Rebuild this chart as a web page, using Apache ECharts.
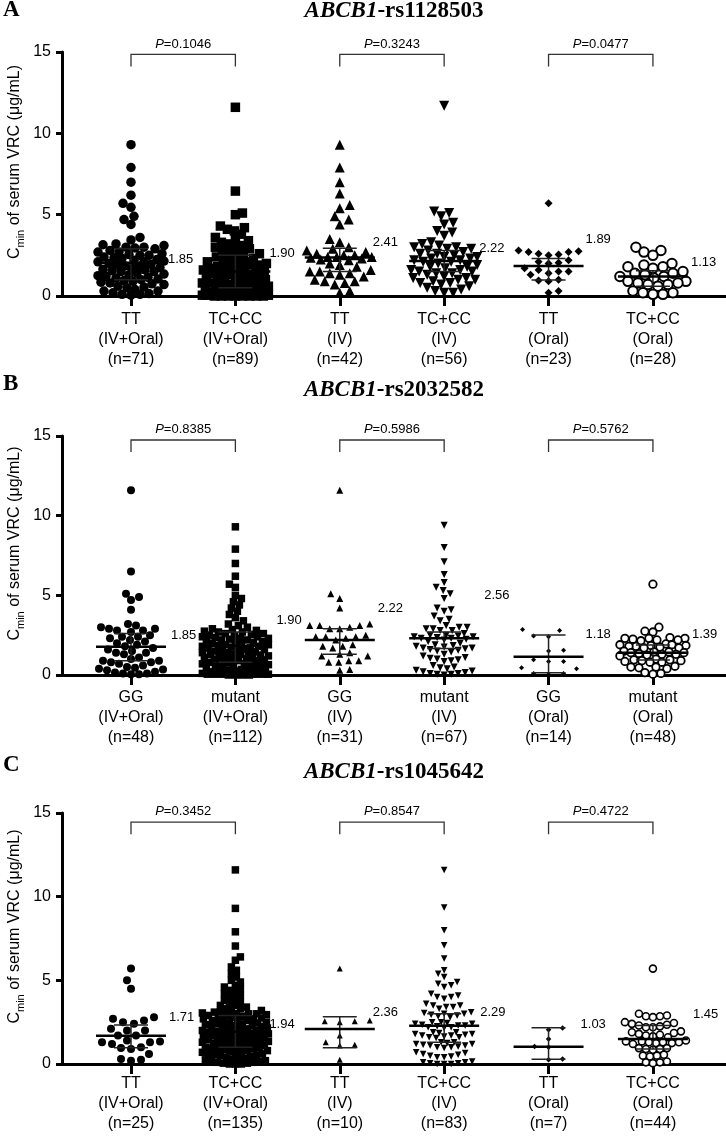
<!DOCTYPE html>
<html>
<head>
<meta charset="utf-8">
<script src="https://cdn.jsdelivr.net/npm/echarts@6/dist/echarts.min.js"></script>
<style>
html, body { margin: 0; padding: 0; background: #fff; }
#main { width: 726px; height: 1136px; }
</style>
</head>
<body>
<div id="main"></div>
<script>
// ---------------- data ----------------
var titleA = 'rs1128503', titleB = 'rs2032582', titleC = 'rs1045642';

var catsA = ['TT\n(IV+Oral)\n(n=71)', 'TC+CC\n(IV+Oral)\n(n=89)', 'TT\n(IV)\n(n=42)', 'TC+CC\n(IV)\n(n=56)', 'TT\n(Oral)\n(n=23)', 'TC+CC\n(Oral)\n(n=28)'];
var catsB = ['GG\n(IV+Oral)\n(n=48)', 'mutant\n(IV+Oral)\n(n=112)', 'GG\n(IV)\n(n=31)', 'mutant\n(IV)\n(n=67)', 'GG\n(Oral)\n(n=14)', 'mutant\n(Oral)\n(n=48)'];
var catsC = ['TT\n(IV+Oral)\n(n=25)', 'TC+CC\n(IV+Oral)\n(n=135)', 'TT\n(IV)\n(n=10)', 'TC+CC\n(IV)\n(n=83)', 'TT\n(Oral)\n(n=7)', 'TC+CC\n(Oral)\n(n=44)'];

var pA = ['0.1046', '0.3243', '0.0477'];
var pB = ['0.8385', '0.5986', '0.5762'];
var pC = ['0.3452', '0.8547', '0.4722'];

var medTextA = ['1.85', '1.90', '2.41', '2.22', '1.89', '1.13'];
var medTextB = ['1.85', '1.90', '2.22', '2.56', '1.18', '1.39'];
var medTextC = ['1.71', '1.94', '2.36', '2.29', '1.03', '1.45'];

// median / interquartile lines as drawn
var medA = [2.05, 1.5, 2.36, 2.15, 1.84, 1.2];
var q1A = [1.0, 0.5, 1.5, 1.5, 0.98, 0.6];
var q3A = [2.9, 2.5, 2.93, 2.8, 2.3, 1.55];
var medB = [1.78, 1.84, 2.2, 2.3, 1.15, 1.4];
var q1B = [0.9, 0.8, 1.3, 1.67, 0.14, 0.94];
var q3B = [2.6, 2.7, 2.9, 2.7, 2.51, 1.88];
var medC = [1.69, 1.93, 2.09, 2.29, 1.03, 1.5];
var q1C = [0.97, 1.0, 0.97, 1.3, 0.28, 0.9];
var q3C = [2.33, 2.9, 2.83, 3.0, 2.17, 2.3];

// panel A points
var a1 = [9.3, 7.9, 7.0, 6.2, 5.7, 5.45, 4.9, 4.7, 4.4, 3.6, 3.45,
  3.2, 3.15, 3.1, 3.0, 3.0, 2.95, 2.9, 2.8,
  2.7, 2.7, 2.6, 2.55, 2.5, 2.5, 2.4, 2.35, 2.3, 2.25,
  2.2, 2.15, 2.1, 2.1, 2.0, 1.95, 1.9, 1.85, 1.8, 1.75,
  1.7, 1.65, 1.6, 1.55, 1.5, 1.5, 1.4, 1.35, 1.3, 1.25,
  1.2, 1.15, 1.1, 1.05, 1.0, 0.95, 0.9, 0.85, 0.8, 0.75,
  0.7, 0.6, 0.55, 0.5, 0.4, 0.3, 0.3, 0.2, 0.15, 0.1, 0.1, 0.05];
var a2 = [11.6, 6.45, 5.1, 5.0, 4.3, 4.2, 4.1, 4.0,
  3.8, 3.6, 3.5, 3.4,
  3.3, 3.2, 3.1, 3.0, 3.0,
  2.9, 2.8, 2.7, 2.6, 2.6, 2.5,
  2.4, 2.3, 2.3, 2.2, 2.1, 2.1, 2.0, 2.0,
  1.9, 1.9, 1.8, 1.8, 1.7, 1.7, 1.6, 1.6, 1.5, 1.5,
  1.45, 1.4, 1.4, 1.3, 1.3, 1.2, 1.2, 1.1, 1.1, 1.0, 1.0,
  0.95, 0.9, 0.9, 0.8, 0.8, 0.7, 0.7, 0.6, 0.6, 0.5, 0.5,
  0.45, 0.4, 0.4, 0.35, 0.3, 0.3, 0.25, 0.2, 0.2, 0.15, 0.1, 0.1, 0.1,
  0.05, 0.05, 0.05, 0.05, 0.05, 0, 0, 0, 0, 0, 0, 0, 0];
var a3 = [9.3, 7.9, 7.0, 6.3, 5.6, 5.4, 4.9, 4.7, 4.4, 3.5, 3.3,
  3.0, 2.9, 2.8, 2.7,
  2.6, 2.5, 2.5, 2.4, 2.4, 2.4, 2.35, 2.3, 2.25, 2.2,
  2.0, 1.9, 1.8,
  1.6, 1.5, 1.5, 1.4, 1.4, 1.3, 1.2,
  1.0, 0.9, 0.9, 0.8, 0.7,
  0.3, 0.2];
var a4 = [11.7, 5.2, 5.1, 4.9, 4.5, 4.4, 4.0, 3.9, 3.7,
  3.3, 3.2, 3.1, 3.0, 3.0, 2.9, 2.9, 2.8,
  2.7, 2.6, 2.6, 2.5, 2.4, 2.4, 2.3, 2.3, 2.2, 2.2, 2.1, 2.1, 2.0,
  1.9, 1.8, 1.8, 1.7, 1.6, 1.6, 1.5, 1.5, 1.4, 1.4, 1.3,
  1.2, 1.1, 1.1, 1.0, 1.0, 0.9, 0.8, 0.8, 0.7,
  0.6, 0.5, 0.4, 0.3, 0.2, 0.2];
var a5 = [5.7, 2.8, 2.75, 2.7, 2.7, 2.6, 2.55, 2.5, 2.2, 2.1, 2.05, 2.0,
  1.7, 1.6, 1.5, 1.5, 1.4, 1.3, 1.0, 0.95, 0.9, 0.3, 0.2];
var a6 = [3.0, 2.8, 2.7, 2.5, 2.0, 1.9, 1.8, 1.8, 1.7, 1.5, 1.4, 1.4, 1.3, 1.2,
  1.2, 1.1, 0.9, 0.9, 0.8, 0.8, 0.7, 0.7, 0.6, 0.3, 0.2, 0.2, 0.1, 0.1];

// panel B points
var b1 = [11.6, 6.5, 5.1, 4.9, 4.7, 4.1,
  3.2, 3.1, 3.0, 2.9, 2.9, 2.8, 2.8, 2.7,
  2.5, 2.4, 2.4, 2.3, 2.2, 2.1, 2.0,
  1.9, 1.8, 1.7, 1.6, 1.5, 1.4, 1.4, 1.3,
  1.1, 1.0, 0.9, 0.9, 0.8, 0.8, 0.7, 0.6,
  0.5, 0.45, 0.4, 0.35, 0.3,
  0.2, 0.15, 0.1, 0.1, 0.05, 0.05];
var b2 = [9.3, 7.9, 7.0, 6.2, 5.7, 5.5, 5.0, 4.8, 4.6, 4.4, 4.2, 4.0, 3.8, 3.6, 3.4, 3.2, 3.1, 3.0,
  2.9, 2.85, 2.8, 2.75, 2.7, 2.7, 2.6, 2.6, 2.55, 2.5,
  2.45, 2.4, 2.4, 2.35, 2.3, 2.3, 2.25, 2.2, 2.2, 2.15, 2.1, 2.1, 2.05, 2.0,
  1.95, 1.9, 1.9, 1.85, 1.8, 1.8, 1.75, 1.7, 1.7, 1.65, 1.6, 1.6, 1.55, 1.5,
  1.45, 1.4, 1.4, 1.35, 1.3, 1.3, 1.3, 1.25, 1.2, 1.2, 1.15, 1.1, 1.1, 1.05, 1.0, 1.0,
  0.95, 0.9, 0.9, 0.85, 0.8, 0.8, 0.75, 0.7, 0.7, 0.65, 0.6, 0.6, 0.55, 0.5,
  0.45, 0.4, 0.4, 0.35, 0.3, 0.3, 0.25, 0.2, 0.2, 0.2, 0.15, 0.15, 0.1, 0.1, 0.1, 0.1,
  0.05, 0.05, 0.05, 0.05, 0.05, 0.05, 0, 0, 0, 0];
var b3 = [11.6, 5.1, 4.8, 4.2, 3.2, 3.1, 3.1, 3.1, 3.0, 2.9, 2.9, 2.5, 2.4, 2.4, 2.4, 2.3,
  2.2, 1.9, 1.8, 1.8, 1.7, 1.4, 1.3, 1.2, 1.2, 0.9, 0.9, 0.8, 0.8, 0.35, 0.3];
var b4 = [9.4, 8.0, 7.1, 6.3, 5.8, 5.5, 5.3, 5.1, 4.8, 4.2, 4.1, 4.0, 3.7, 3.5, 3.4,
  3.1, 3.0, 3.0, 2.9, 2.9, 2.8, 2.8,
  2.6, 2.5, 2.5, 2.45, 2.4, 2.4, 2.35, 2.3, 2.3, 2.25, 2.2, 2.1,
  2.0, 1.9, 1.85, 1.8, 1.75, 1.7, 1.7, 1.65, 1.6, 1.55, 1.5, 1.45,
  1.3, 1.2, 1.1, 1.05, 1.0, 0.95, 0.9, 0.85,
  0.6, 0.5, 0.45, 0.4, 0.3, 0.25, 0.2, 0.15, 0.1, 0.1, 0.05, 0.05, 0];
var b5 = [2.85, 2.8, 2.45, 2.4, 1.55, 1.5, 0.95, 0.85, 0.85, 0.45, 0.4, 0.1, 0.1, 0.05];
var b6 = [5.7, 3.0, 2.75, 2.7, 2.35, 2.3, 2.3, 2.3, 2.25, 2.2, 2.2, 2.15,
  1.95, 1.9, 1.9, 1.85, 1.85, 1.8, 1.8, 1.75, 1.7, 1.7,
  1.5, 1.45, 1.45, 1.4, 1.4, 1.35, 1.3, 1.3, 1.25, 1.2,
  1.0, 0.95, 0.95, 0.9, 0.9, 0.85, 0.8, 0.8,
  0.55, 0.5, 0.5, 0.45, 0.4, 0.15, 0.1, 0.05];

// panel C points
var c1 = [5.7, 5.0, 4.5, 2.8, 2.7, 2.6, 2.5, 2.4, 2.1, 2.0, 2.0, 1.7, 1.7, 1.4, 1.35,
  1.3, 1.3, 1.2, 1.0, 0.95, 0.9, 0.6, 0.3, 0.25, 0.2];
var c2 = [11.6, 9.3, 7.9, 7.05, 6.4, 6.2, 5.8,
  5.6, 5.4, 5.2, 5.0, 4.9, 4.7, 4.6, 4.5, 4.4, 4.3, 4.2, 4.1, 4.0, 3.9, 3.8,
  3.7, 3.6, 3.5, 3.5, 3.4, 3.3, 3.3, 3.2, 3.2, 3.1, 3.1, 3.05, 3.0, 3.0, 3.0,
  2.95, 2.9, 2.9, 2.85, 2.8, 2.8, 2.75, 2.7, 2.7, 2.65, 2.6, 2.6, 2.55, 2.5,
  2.45, 2.45, 2.4, 2.4, 2.35, 2.3, 2.3, 2.25, 2.2, 2.2, 2.15, 2.1, 2.1, 2.05, 2.0, 2.0,
  1.95, 1.95, 1.9, 1.9, 1.85, 1.85, 1.8, 1.8, 1.75, 1.7, 1.7, 1.65, 1.6, 1.6, 1.55, 1.55, 1.5, 1.5,
  1.45, 1.45, 1.4, 1.4, 1.35, 1.35, 1.3, 1.3, 1.25, 1.2, 1.2, 1.15, 1.1, 1.1, 1.05, 1.05, 1.0, 1.0,
  0.95, 0.95, 0.9, 0.9, 0.85, 0.8, 0.8, 0.75, 0.7, 0.7, 0.65, 0.6, 0.6, 0.55, 0.5, 0.5,
  0.45, 0.4, 0.35, 0.3, 0.3, 0.25, 0.2, 0.2, 0.15, 0.1, 0.1, 0.05, 0.05, 0, 0, 0];
var c3 = [5.7, 2.6, 2.55, 2.55, 2.5, 1.7, 1.3, 1.15, 1.1, 0.25];
var c4 = [11.6, 9.35, 8.0, 7.1, 6.3, 5.6, 5.4, 5.2, 4.9, 4.8, 4.7, 4.6, 4.2, 4.1, 4.0, 4.0, 3.9,
  3.6, 3.5, 3.5, 3.4, 3.4, 3.3,
  3.1, 3.05, 3.0, 3.0, 2.95, 2.9, 2.85, 2.8,
  2.5, 2.5, 2.45, 2.4, 2.4, 2.35, 2.3, 2.3, 2.25, 2.2, 2.2, 2.15,
  1.9, 1.9, 1.85, 1.8, 1.8, 1.75, 1.7, 1.7, 1.65, 1.6, 1.6, 1.55,
  1.3, 1.3, 1.25, 1.2, 1.2, 1.15, 1.1, 1.1, 1.05, 1.0, 1.0, 0.95,
  0.7, 0.65, 0.6, 0.55, 0.5, 0.45, 0.4, 0.4,
  0.15, 0.1, 0.1, 0.05, 0.05, 0, 0, 0];
var c5 = [2.15, 2.05, 1.5, 1.05, 1.0, 0.3, 0.25];
var c6 = [5.7, 3.0, 2.9, 2.85, 2.85, 2.8,
  2.5, 2.45, 2.4, 2.35, 2.3, 2.25, 2.2, 2.2,
  1.95, 1.9, 1.85, 1.8, 1.75, 1.7, 1.65, 1.6,
  1.4, 1.35, 1.35, 1.3, 1.3, 1.3, 1.25, 1.25, 1.2,
  0.95, 0.95, 0.9, 0.9, 0.85,
  0.55, 0.5, 0.5, 0.45,
  0.15, 0.1, 0.1, 0.05];

// ---------------- layout / style ----------------
var XMIN = -0.661, XMAX = 5.70;
var GRID_LEFT = 62, GRID_W = 664;
var XU = GRID_W / (XMAX - XMIN);   // px per group step
var SANS = 'Liberation Sans, Arial, sans-serif';
var SERIF = 'Liberation Serif, Times New Roman, serif';

var shapes = ['circle', 'rect', 'triangle', 'triangle', 'diamond', 'circle'];
var rotates = [0, 0, 0, 180, 0, 0];

var layout = [
  { top: 52, height: 244, letterY: 10, titleY: 11, labMargin: 14, brY: 14.85,
    size: [9.5, 9.5, 10, 10, 8, 9.5], gap: [8.5, 7, 10, 8.5, 10, 9.5], row: [8.5, 7, 9, 8.5, 8, 9], ring: 2,
    labPos: [[37, 2.27], [34, 2.64], [33, 3.32], [35, 2.95], [37, 3.5], [38, 2.09]] },
  { top: 436, height: 239, letterY: 384, titleY: 390, labMargin: 13, brY: 14.75,
    size: [8, 7.5, 7, 7, 5, 7.5], gap: [8, 6.5, 10, 7, 15, 7.5], row: [8, 6.5, 8, 7, 9, 7.5], ring: 1.8,
    labPos: [[40, 2.51], [41, 3.45], [38, 4.2], [40, 5.0], [37, 2.57], [39, 2.57]] },
  { top: 813, height: 251, letterY: 765, titleY: 772, labMargin: 10, brY: 14.45,
    size: [8, 7.5, 6, 6.5, 5.5, 7], gap: [10, 6, 15, 6.5, 14, 7], row: [9, 6, 8, 6.5, 8, 7], ring: 1.6,
    labPos: [[38, 2.81], [34, 2.39], [33, 3.1], [36, 3.1], [32, 2.39], [40, 2.99]] }
];

var panels = [
  { letter: 'A', title: titleA, cats: catsA, p: pA, medText: medTextA, med: medA, q1: q1A, q3: q3A, groups: [a1, a2, a3, a4, a5, a6] },
  { letter: 'B', title: titleB, cats: catsB, p: pB, medText: medTextB, med: medB, q1: q1B, q3: q3B, groups: [b1, b2, b3, b4, b5, b6] },
  { letter: 'C', title: titleC, cats: catsC, p: pC, medText: medTextC, med: medC, q1: q1C, q3: q3C, groups: [c1, c2, c3, c4, c5, c6] }
];

// beeswarm: each point goes to the free horizontal spot nearest the centre
function swarm(vals, ppu, gap, rowH, maxHalf) {
  var order = vals.map(function (v, i) { return i; }).sort(function (a, b) { return vals[a] - vals[b]; });
  var placed = [], off = new Array(vals.length), flip = 1;
  order.forEach(function (i) {
    var y = vals[i] * ppu, best = 0, bestScore = -1, done = false;
    for (var m = 0; m <= maxHalf && !done; m += 1) {
      var cands = m === 0 ? [0] : [flip * m, -flip * m];
      for (var c = 0; c < cands.length; c++) {
        var x = cands[c], minD = Infinity;
        for (var k = 0; k < placed.length; k++) {
          var dx = (placed[k][0] - x) / gap, dy = (placed[k][1] - y) / rowH;
          var d = dx * dx + dy * dy;
          if (d < minD) minD = d;
        }
        if (minD >= 1) { best = x; done = true; break; }
        if (minD > bestScore) { bestScore = minD; best = x; }
      }
    }
    if (best !== 0) flip = best > 0 ? -1 : 1;
    placed.push([best, y]);
    off[i] = best;
  });
  return off;
}

var grids = [], xAxes = [], yAxes = [], series = [], graphics = [];

panels.forEach(function (p, pi) {
  var L = layout[pi];
  var ppu = L.height / 15;

  grids.push({ left: GRID_LEFT, width: GRID_W, top: L.top, height: L.height });
  xAxes.push({
    gridIndex: pi, type: 'value', min: XMIN, max: XMAX,
    axisLine: { show: true, lineStyle: { color: '#000', width: 3 } },
    axisTick: { show: true, customValues: [0, 1, 2, 3, 4, 5], length: 10, lineStyle: { color: '#000', width: 3 } },
    axisLabel: {
      show: true, customValues: [0, 1, 2, 3, 4, 5], margin: L.labMargin,
      color: '#000', fontFamily: SANS, fontSize: 16, lineHeight: 20, align: 'center',
      formatter: function (v) { return p.cats[Math.round(v)]; }
    },
    splitLine: { show: false }
  });
  yAxes.push({
    gridIndex: pi, type: 'value', min: 0, max: 15, interval: 5,
    axisLine: { show: true, onZero: false, lineStyle: { color: '#000', width: 3 } },
    axisTick: { show: true, length: 6, lineStyle: { color: '#000', width: 3 } },
    axisLabel: { color: '#000', fontFamily: SANS, fontSize: 16, margin: 11 },
    splitLine: { show: false }
  });

  p.groups.forEach(function (vals, gi) {
    var off = swarm(vals, ppu, L.gap[gi], L.row[gi], 33);
    var hollow = gi === 5;
    series.push({
      type: 'scatter', xAxisIndex: pi, yAxisIndex: pi, z: 2, clip: false, silent: true,
      symbol: shapes[gi], symbolRotate: rotates[gi], symbolSize: L.size[gi],
      itemStyle: hollow ? { color: '#fff', borderColor: '#000', borderWidth: L.ring, opacity: 1 }
                        : { color: '#000', opacity: 1 },
      data: vals.map(function (v, k) { return [gi + off[k] / XU, v]; })
    });
  });

  // median and interquartile range
  series.push({
    type: 'custom', xAxisIndex: pi, yAxisIndex: pi, z: 4, clip: false, silent: true,
    data: p.med.map(function (m, i) { return [i, m, p.q1[i], p.q3[i]]; }),
    renderItem: function (params, api) {
      var c = api.coord([api.value(0), api.value(1)]);
      var lo = api.coord([api.value(0), api.value(2)]);
      var hi = api.coord([api.value(0), api.value(3)]);
      var thin = { stroke: '#222', lineWidth: 1.5 };
      return { type: 'group', children: [
        { type: 'line', shape: { x1: c[0], y1: lo[1], x2: c[0], y2: hi[1] }, style: thin },
        { type: 'line', shape: { x1: c[0] - 17, y1: lo[1], x2: c[0] + 17, y2: lo[1] }, style: thin },
        { type: 'line', shape: { x1: c[0] - 17, y1: hi[1], x2: c[0] + 17, y2: hi[1] }, style: thin },
        { type: 'line', shape: { x1: c[0] - 35, y1: c[1], x2: c[0] + 35, y2: c[1] }, style: { stroke: '#000', lineWidth: 2.5 } }
      ] };
    }
  });

  // value labels beside each group
  series.push({
    type: 'custom', xAxisIndex: pi, yAxisIndex: pi, z: 5, clip: false, silent: true,
    data: L.labPos.map(function (lp, i) { return [i, lp[1]]; }),
    renderItem: function (params, api) {
      var i = params.dataIndex;
      var c = api.coord([api.value(0), api.value(1)]);
      return { type: 'text', x: c[0] + L.labPos[i][0], y: c[1],
        style: { text: p.medText[i], fill: '#000', fontFamily: SANS, fontSize: 13, align: 'left', verticalAlign: 'middle' } };
    }
  });

  // significance brackets
  series.push({
    type: 'custom', xAxisIndex: pi, yAxisIndex: pi, z: 5, clip: false, silent: true,
    data: [[0, 1], [2, 3], [4, 5]],
    renderItem: function (params, api) {
      var l = api.coord([api.value(0), L.brY]);
      var r = api.coord([api.value(1), L.brY]);
      return { type: 'group', children: [
        { type: 'polyline', shape: { points: [[l[0], l[1] + 12], [l[0], l[1]], [r[0], r[1]], [r[0], r[1] + 12]] },
          style: { stroke: '#333', lineWidth: 1.3, fill: null } },
        { type: 'text', x: (l[0] + r[0]) / 2, y: l[1] - 4,
          style: { text: '{i|P}{n|=' + p.p[params.dataIndex] + '}', align: 'center', verticalAlign: 'bottom',
            rich: { i: { fontFamily: SANS, fontSize: 13, fontStyle: 'italic', fill: '#000' },
                    n: { fontFamily: SANS, fontSize: 13, fill: '#000' } } } }
      ] };
    }
  });

  graphics.push({ type: 'text', x: 3, y: L.letterY,
    style: { text: p.letter, fontFamily: SERIF, fontWeight: 'bold', fontSize: 23, fill: '#000', align: 'left', verticalAlign: 'middle' } });
  graphics.push({ type: 'text', x: GRID_LEFT + GRID_W / 2, y: L.titleY,
    style: { text: '{i|ABCB1}{r|-' + p.title + '}', align: 'center', verticalAlign: 'middle',
      rich: { i: { fontFamily: SERIF, fontWeight: 'bold', fontStyle: 'italic', fontSize: 23, fill: '#000' },
              r: { fontFamily: SERIF, fontWeight: 'bold', fontSize: 23, fill: '#000' } } } });
  graphics.push({ type: 'text', x: 15, y: L.top + L.height / 2 - 12, rotation: Math.PI / 2,
    style: { text: '{a|C}{b|min}{a| of serum VRC (μg/mL)}', align: 'center', verticalAlign: 'middle',
      rich: { a: { fontFamily: SANS, fontSize: 16, lineHeight: 22, fill: '#000' },
              b: { fontFamily: SANS, fontSize: 11, lineHeight: 13, verticalAlign: 'bottom', fill: '#000' } } } });
});

var chart = echarts.init(document.getElementById('main'));
chart.setOption({
  animation: false,
  backgroundColor: '#fff',
  grid: grids,
  xAxis: xAxes,
  yAxis: yAxes,
  graphic: graphics,
  series: series
});
</script>
</body>
</html>
